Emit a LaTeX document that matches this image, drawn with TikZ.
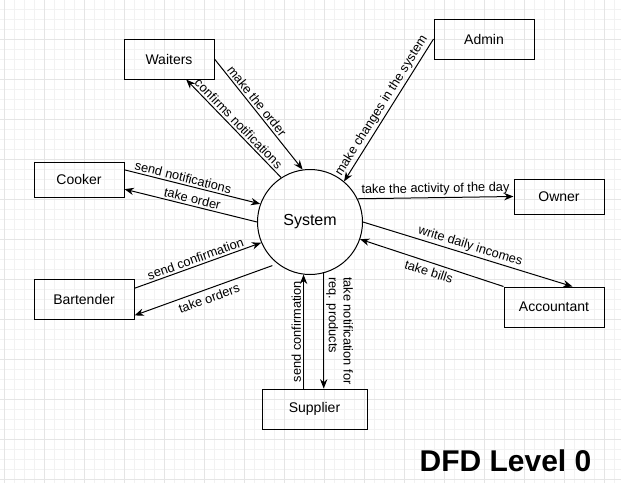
\documentclass[tikz,border=0pt]{standalone}
\usepackage{fontspec}
\setmainfont{Liberation Sans}
\usetikzlibrary{arrows.meta, calc}

\begin{document}
\begin{tikzpicture}[x=0.75pt, y=-0.75pt,
    entity/.style={draw, line width=0.75pt, inner sep=0pt, font=\fontsize{10.5}{12}\selectfont},
    flow/.style={line width=0.75pt, -{Stealth[length=7pt, width=5.5pt]}},
    lbl/.style={sloped, inner sep=1.5pt, font=\fontsize{9.6}{11}\selectfont},
    vlbl/.style={inner sep=1.5pt, font=\fontsize{9.6}{11}\selectfont}]
\useasboundingbox (0,0) rectangle (621,483);
% background grid
\foreach \x in {4,14,...,614} \draw[black!5, line width=0.75pt] (\x,0) -- (\x,483);
\foreach \y in {9,19,...,479} \draw[black!5, line width=0.75pt] (0,\y) -- (621,\y);
\foreach \x in {4,44,...,604} \draw[black!10, line width=0.75pt] (\x,0) -- (\x,483);
\foreach \y in {39,79,...,479} \draw[black!10, line width=0.75pt] (0,\y) -- (621,\y);

% process and entities
\node[draw, circle, line width=0.75pt, minimum size=78.75pt, font=\fontsize{12}{14}\selectfont] (system) at (310,222) {System};
\node[entity, minimum width=67.5pt, minimum height=30pt] (waiters) at (169,59) {Waiters};
\node[entity, minimum width=75pt, minimum height=30pt] (admin) at (484,39) {Admin};
\node[entity, minimum width=67.5pt, minimum height=26.25pt] (cooker) at (79,179.5) {Cooker};
\node[entity, minimum width=75pt, minimum height=30pt] (bartender) at (84,299) {Bartender};
\node[entity, minimum width=67.5pt, minimum height=26.25pt] (owner) at (559,196.5) {Owner};
\node[entity, minimum width=75pt, minimum height=30pt] (accountant) at (554,307) {Accountant};
\node[entity, minimum width=78.75pt, minimum height=30pt] (supplier) at (314.5,409) {Supplier};

% data flows
\draw[flow] (waiters.east) -- node[lbl, above, pos=0.42] {make the order} (system.98);
\draw[flow] (system.123) -- node[lbl, above] {confirms notifications} (waiters.-50);
\draw[flow] (admin.west) -- node[lbl, above] {make changes in the system} (system.50);
\draw[flow] (system.26) -- node[lbl, above] {take the activity of the day} (owner.west);
\draw[flow] (system.0) -- node[lbl, above] {write daily incomes} (accountant.48);
\draw[flow] (accountant.north west) -- node[lbl, below, inner sep=3pt] {take bills} (system.-19);
\draw[flow] (cooker.12) -- node[lbl, above, pos=0.42] {send notifications} (system.160);
\draw[flow] (system.180) -- node[lbl, above] {take order} (cooker.-12);
\draw[flow] (bartender.12) -- node[lbl, above] {send confirmation} (system.203);
\draw[flow, shorten <=4pt] (system.232) -- node[lbl, below, inner sep=3pt] {take orders} (bartender.-18);
\draw[flow] (supplier.north -| system.-97) -- node[vlbl, midway, rotate=90, above] {send confirmation} (system.-97);
\draw[flow] (system.-75) -- node[vlbl, midway, rotate=-90, above, align=left] {take notification for\\req. products} (system.-75 |- supplier.north);

\node[font=\bfseries\fontsize{22.5}{27}\selectfont] (title) at (505.5,461) {DFD Level 0};
\end{tikzpicture}
\end{document}
